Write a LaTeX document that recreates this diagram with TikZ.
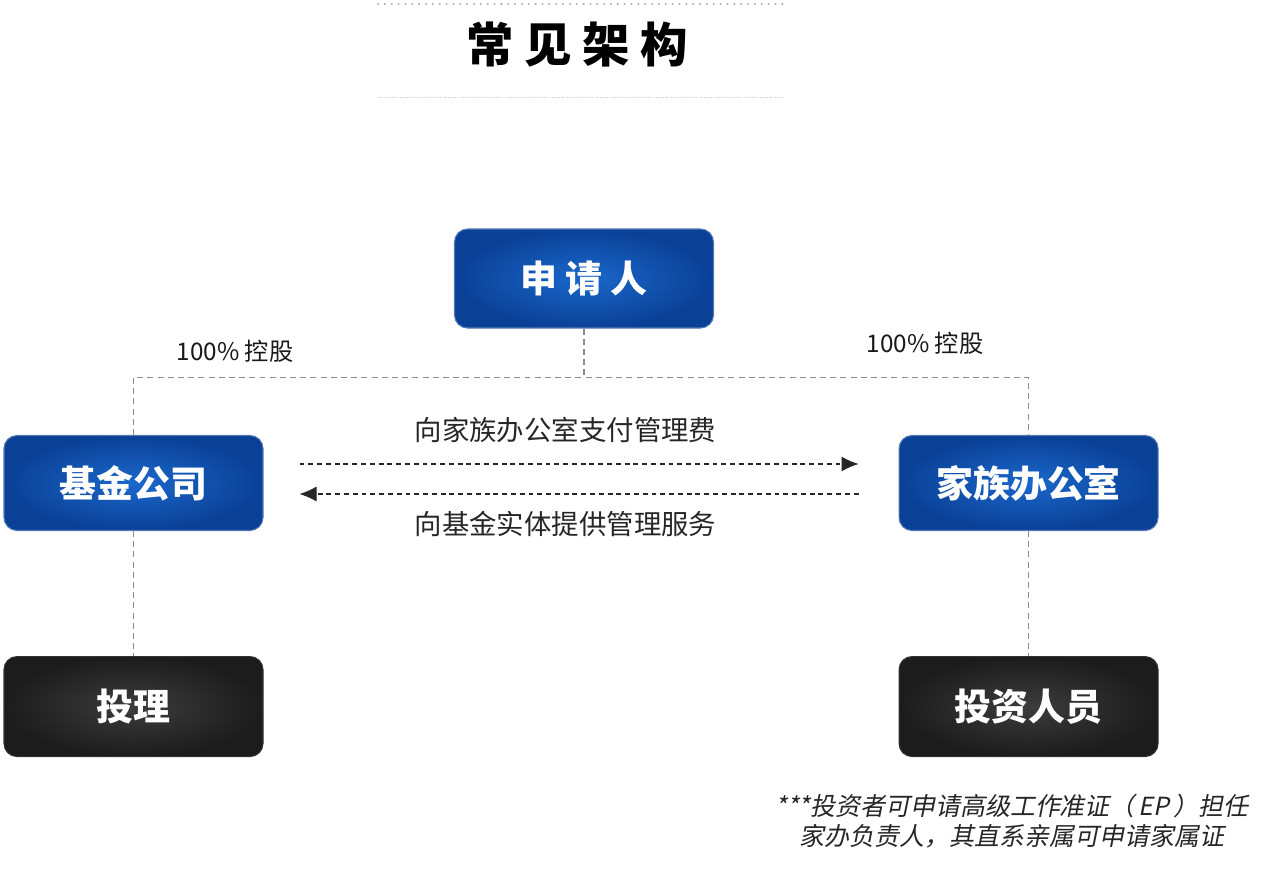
\documentclass[tikz,border=0pt]{standalone}
\usepackage{fontspec}
\setmainfont{Noto Sans CJK SC}
\newfontfamily\noteit[FakeSlant=0.2]{Noto Sans CJK SC}
\usetikzlibrary{arrows.meta, positioning}

\definecolor{boxblue}{HTML}{1A68CC}
\definecolor{boxnavy}{HTML}{0A4096}
\definecolor{boxgray}{HTML}{3C3C3C}
\definecolor{boxblack}{HTML}{1C1C1C}
\definecolor{linkgray}{HTML}{8C8C8C}

\begin{document}
\begin{tikzpicture}[thick]
    % Style definitions
    \tikzset{bluebox/.style={rectangle, rounded corners=0.26cm, draw=boxnavy!70, line width=0.6pt, inner color=boxblue, outer color=boxnavy, minimum width=5.18cm, minimum height=1.9cm, align=center, text=white, font=\fontsize{21}{24}\selectfont\bfseries}}
    \tikzset{darkbox/.style={bluebox, draw=black!80, inner color=boxgray, outer color=boxblack, minimum height=2.0cm}}
    \tikzset{link/.style={draw=linkgray, line width=0.9pt, dash pattern=on 3.4pt off 2.4pt}}
    \tikzset{flow/.style={draw=black!85, line width=0.6pt, dash pattern=on 2.8pt off 2.2pt, -{Latex[length=3.4mm, width=3mm]}}}
    \tikzset{label/.style={font=\fontsize{15.6}{18}\selectfont, text=black!85}}
    \tikzset{share/.style={font=\fontsize{13.8}{16}\selectfont, text=black!90}}

    \useasboundingbox (0,0) rectangle (25.32,-17.38);

    % Title
    \node [font=\fontsize{27}{31}\selectfont\bfseries] (title) at (11.54,-0.9) {常\hspace{6pt}见\hspace{6pt}架\hspace{6pt}构};
    \draw [linkgray!70, line width=1.3pt, line cap=round, dash pattern=on 0pt off 3.9pt] (7.56,-0.08) -- (15.66,-0.08);
    \draw [linkgray!35, line width=0.5pt, dash pattern=on 1pt off 0.6pt] (7.56,-1.94) -- (15.66,-1.94);

    % Nodes
    \node [bluebox, minimum height=1.98cm] (applicant) at (11.68,-5.57) {申\hspace{4.5pt}请\hspace{4.5pt}人};
    \node [bluebox] (fund) at (2.67,-9.66) {基金公司};
    \node [bluebox, right=12.7cm of fund] (office) {家族办公室};
    \node [darkbox, below=2.5cm of fund] (manager) {投理};
    \node [darkbox, below=2.5cm of office] (investor) {投资人员};

    % Ownership labels
    \node [share] (shareL) at (4.7,-7.02) {100\% 控股};
    \node [share] (shareR) at (18.5,-6.86) {100\% 控股};

    % Links
    \draw [link] (applicant.south) -- ++(0,-0.98) coordinate (hub);
    \draw [link] (fund.north) |- (hub) -| (office.north);
    \draw [link] (fund.south) -- (manager.north);
    \draw [link] (office.south) -- (investor.north);

    % Arrows
    \draw [flow] ([shift={(0.72,0.38)}]fund.east) -- ([shift={(-0.8,0.38)}]office.west)
        node [label, midway, above=0.3cm, xshift=-0.27cm] (fee) {向家族办公室支付管理费};
    \draw [flow] ([shift={(-0.8,-0.22)}]office.west) -- ([shift={(0.72,-0.22)}]fund.east)
        node [label, midway, below=0.22cm, xshift=-0.27cm] (service) {向基金实体提供管理服务};

    % Footnote
    \node [font=\fontsize{14.2}{17}\noteit, text=black!85, align=center] (note) at (20.24,-16.42)
        {***投资者可申请高级工作准证（\,EP\,）担任\\家办负责人，其直系亲属可申请家属证};
\end{tikzpicture}
\end{document}
